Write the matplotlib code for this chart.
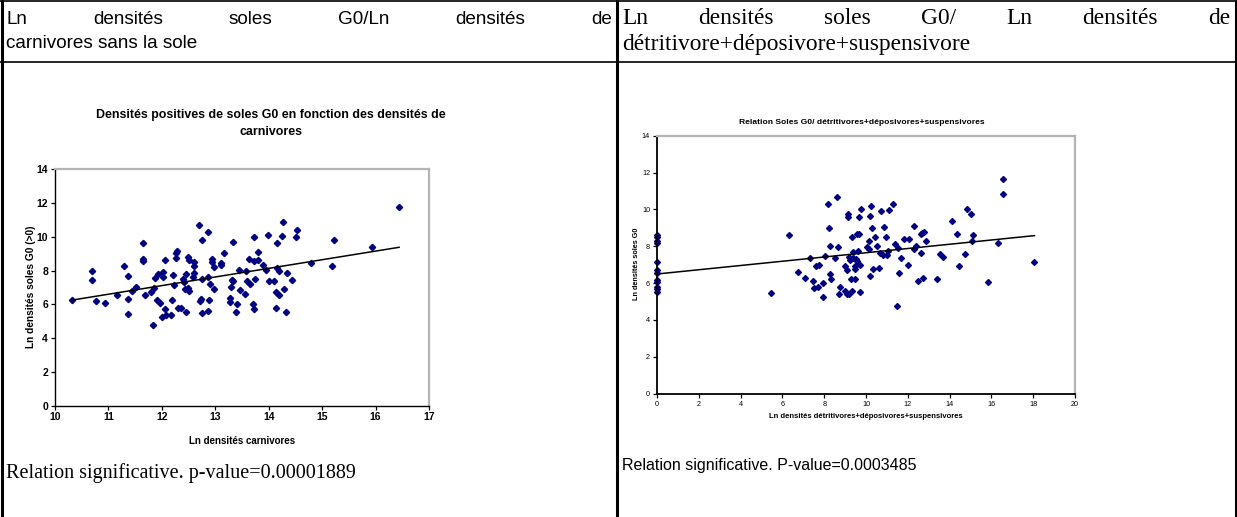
import numpy as np
import matplotlib
matplotlib.use("Agg")
import matplotlib.pyplot as plt

# ---------data---------
# left chart : Ln densites carnivores vs Ln densites soles G0
left_x = [10.31, 10.70, 10.70, 10.77, 10.94, 11.16, 11.30, 11.36, 11.36, 11.37,
          11.44, 11.52, 11.64, 11.64, 11.64, 11.69, 11.80, 12.70, 12.86, 12.76,
          13.33, 12.27, 12.29, 12.27, 12.05, 12.48, 12.50, 12.60, 12.61, 12.93,
          12.94, 12.97, 13.10, 13.11, 13.17, 12.02, 12.03, 11.92, 11.88, 12.20,
          12.45, 12.60, 12.58, 12.39, 12.42, 12.23, 11.85, 12.44, 12.48, 12.51,
          12.75, 12.86, 12.91, 12.97, 13.31, 13.34, 13.29, 13.46, 13.56, 13.45,
          13.57, 11.91, 11.96, 12.19, 12.06, 12.01, 12.08, 12.17, 11.84, 12.31,
          12.35, 12.46, 12.71, 12.73, 12.88, 12.76, 12.86, 13.28, 13.27, 13.40,
          13.39, 14.27, 13.72, 13.99, 14.25, 14.53, 14.51, 14.15, 15.23, 13.80,
          13.63, 13.72, 13.80, 13.89, 13.95, 14.15, 14.19, 14.34, 14.80, 15.18,
          13.75, 13.60, 13.65, 14.00, 14.09, 14.43, 14.13, 14.28, 14.19, 13.70,
          13.72, 14.13, 14.33, 15.93, 16.44]
left_y = [6.27, 8.00, 7.43, 6.18, 6.07, 6.54, 8.24, 7.69, 6.30, 5.41,
          6.78, 7.01, 9.62, 8.68, 8.58, 6.52, 6.74, 10.71, 10.26, 9.82,
          9.70, 9.03, 9.15, 8.74, 8.64, 8.80, 8.64, 8.52, 8.28, 8.70,
          8.52, 8.20, 8.44, 8.34, 9.03, 7.94, 7.63, 7.80, 7.57, 7.73,
          7.79, 7.88, 7.63, 7.51, 7.33, 7.17, 6.99, 6.91, 6.99, 6.78,
          7.49, 7.61, 7.19, 6.93, 7.43, 7.37, 7.01, 6.85, 6.60, 8.06,
          7.98, 6.28, 6.10, 6.26, 5.74, 5.27, 5.37, 5.39, 4.78, 5.80,
          5.80, 5.57, 6.22, 6.30, 6.26, 5.47, 5.59, 6.40, 6.12, 6.00,
          5.53, 10.89, 9.96, 10.08, 10.06, 10.38, 10.00, 9.64, 9.80, 9.09,
          8.68, 8.58, 8.65, 8.32, 8.06, 8.14, 8.00, 7.86, 8.42, 8.28,
          7.51, 7.35, 7.21, 7.37, 7.37, 7.43, 6.74, 6.93, 6.54, 6.04,
          5.73, 5.79, 5.53, 9.41, 11.74]
left_slope, left_icpt, left_r2 = 0.5112, 0.9726, 0.1589

# right chart : Ln densites detritivores+deposivores+suspensivores vs soles G0
right_x = [0, 0, 0, 0, 0, 0, 0, 0, 0, 0, 0, 0,
           5.45, 6.30, 6.77, 7.08, 7.33, 7.47, 7.51, 7.60, 7.77, 7.72,
           7.92, 7.95, 8.05, 8.18, 8.24, 8.26, 8.27, 8.31, 8.50, 8.61,
           8.66, 8.69, 8.77, 8.98, 8.98, 9.08, 9.09, 9.13, 9.16, 9.18,
           9.21, 9.22, 9.32, 9.30, 9.33, 9.37, 9.40, 9.46, 9.46, 9.48,
           9.50, 9.56, 9.58, 9.61, 9.65, 9.67, 9.71, 9.72, 9.76, 10.04,
           10.14, 10.22, 10.21, 10.12, 10.19, 10.29, 10.34, 10.45, 10.54, 10.61,
           10.66, 10.73, 10.83, 10.87, 11.08, 11.31, 10.95, 11.41, 11.55, 11.05,
           11.01, 11.67, 11.60, 11.48, 11.83, 12.08, 12.00, 12.30, 12.28, 12.40,
           12.63, 12.70, 12.77, 12.88, 12.63, 12.50, 12.74, 13.39, 13.53, 13.68,
           14.10, 14.37, 14.43, 14.73, 14.82, 15.02, 15.14, 15.09, 15.86, 16.33,
           16.54, 16.55, 18.06]
right_y = [8.60, 8.50, 8.30, 8.20, 7.15, 6.70, 6.55, 6.15, 6.05, 5.80, 5.70, 5.50,
           5.47, 8.60, 6.58, 6.27, 7.35, 6.09, 5.73, 6.91, 6.98, 5.78,
           5.98, 5.26, 7.48, 10.32, 8.98, 7.99, 6.49, 6.23, 7.37, 10.66,
           7.95, 5.40, 5.80, 6.94, 5.57, 6.72, 5.40, 9.76, 9.60, 5.39,
           7.43, 7.28, 8.48, 6.22, 5.55, 7.70, 7.37, 6.94, 6.22, 6.74,
           7.32, 7.21, 8.69, 7.77, 9.58, 8.66, 6.96, 5.51, 10.01, 7.95,
           7.83, 10.21, 9.65, 8.28, 6.38, 8.98, 6.76, 8.51, 8.04, 6.81,
           7.64, 9.92, 7.52, 9.05, 9.97, 10.30, 8.51, 8.11, 7.90, 7.77,
           7.52, 7.34, 6.53, 4.77, 8.40, 8.37, 6.98, 9.11, 7.84, 8.01,
           8.64, 8.73, 8.80, 8.26, 7.61, 6.11, 6.29, 6.23, 7.59, 7.41,
           9.36, 8.64, 6.91, 7.57, 10.03, 9.76, 8.60, 8.26, 6.04, 8.17,
           11.67, 10.82, 7.14]
right_slope, right_icpt, right_r2 = 0.1153, 6.4956, 0.1066

left_xticks = [10, 11, 12, 13, 14, 15, 16, 17]
left_yticks = [0, 2, 4, 6, 8, 10, 12, 14]
right_xticks = [0, 2, 4, 6, 8, 10, 12, 14, 16, 18, 20]
right_yticks = [0, 2, 4, 6, 8, 10, 12, 14]

W, H = 1237, 517
SANS = "Liberation Sans"
SERIF = "Liberation Serif"
NAVY = "#000080"

fig = plt.figure(figsize=(W / 100, H / 100), dpi=100)

# overlay in pixel coords for the table, headers, captions
ov = fig.add_axes([0, 0, 1, 1], zorder=0)
ov.set_xlim(0, W)
ov.set_ylim(H, 0)
ov.axis("off")


def px_axes(x0, y0, x1, y1):
    return fig.add_axes([x0 / W, 1 - y1 / H, (x1 - x0) / W, (y1 - y0) / H], zorder=2)


# ---------table borders---------
for xv in [1.5, 617, 1235.5]:
    ov.plot([xv, xv], [0, H], color="black", lw=2.2, solid_capstyle="butt")
for yv in [0.8, 62]:
    ov.plot([0, W], [yv, yv], color="black", lw=1.2, solid_capstyle="butt")

renderer = fig.canvas.get_renderer()


def justified(words, x0, x1, y, **kw):
    # place words spread over x0..x1, like Word's justify
    ts = [ov.text(0, y, w, va="baseline", ha="left", **kw) for w in words]
    widths = [t.get_window_extent(renderer=renderer).width for t in ts]
    gap = (x1 - x0 - sum(widths)) / (len(words) - 1)
    x = x0
    for t, w in zip(ts, widths):
        t.set_x(x)
        x += w + gap


justified(["Ln", "densités", "soles", "G0/Ln", "densités", "de"], 6, 612, 24,
          family=SANS, fontsize=13.6)
ov.text(6, 48, "carnivores sans la sole", family=SANS, fontsize=13.6, va="baseline")

justified(["Ln", "densités", "soles", "G0/", "Ln", "densités", "de"], 622, 1230, 24,
          family=SERIF, fontsize=16.8)
ov.text(622, 50, "détritivore+déposivore+suspensivore", family=SERIF, fontsize=16.8,
        va="baseline")

ov.text(6, 478, "Relation significative. p-value=0.00001889", family=SERIF,
        fontsize=14.5, va="baseline")
ov.text(622, 470, "Relation significative. P-value=0.0003485", family=SANS,
        fontsize=11.5, va="baseline")


def style_axes(ax, lw_axis, tick_fs, bold):
    for s in ["top", "right"]:
        ax.spines[s].set_color("#b4b4b4")
        ax.spines[s].set_linewidth(1.6)
    for s in ["left", "bottom"]:
        ax.spines[s].set_color("black")
        ax.spines[s].set_linewidth(lw_axis)
    ax.tick_params(direction="out", length=3, width=0.9, labelsize=tick_fs, pad=2)
    for lab in ax.get_xticklabels() + ax.get_yticklabels():
        lab.set_family(SANS)
        if bold:
            lab.set_fontweight("bold")


# ---------left chart---------
ax1 = px_axes(55, 169.3, 429, 405.5)
ax1.plot(left_x, left_y, "D", color=NAVY, ms=3.2, mec=NAVY, ls="none")
lx = np.array([min(left_x), max(left_x)])
ax1.plot(lx, left_slope * lx + left_icpt, color="black", lw=1.1)
ax1.set_xlim(10, 17)
ax1.set_ylim(0, 14)
ax1.set_xticks(left_xticks)
ax1.set_yticks(left_yticks)
style_axes(ax1, 1.0, 7.5, True)

ov.text(271, 115, "Densités positives de soles G0 en fonction des densités de",
        family=SANS, fontsize=8.9, fontweight="bold", ha="center", va="center")
ov.text(271, 132, "carnivores", family=SANS, fontsize=8.9, fontweight="bold",
        ha="center", va="center")
ov.text(58, 185, "y = %.4fx + %.4f" % (left_slope, left_icpt), family=SANS,
        fontsize=8.2, fontweight="bold", va="center", zorder=5)
ov.text(79, 203, "R$^2$ = %.4f" % left_r2, family=SANS, fontsize=8.2,
        fontweight="bold", va="center")
ov.text(31, 287, "Ln densités soles G0 (>0)", family=SANS, fontsize=7.3,
        fontweight="bold", rotation=90, ha="center", va="center")
ov.text(242, 441, "Ln densités carnivores", family=SANS, fontsize=7,
        fontweight="bold", ha="center", va="center")

# ---------right chart---------
ax2 = px_axes(657, 135.7, 1075, 393.7)
ax2.plot(right_x, right_y, "D", color=NAVY, ms=3.0, mec=NAVY, ls="none",
         clip_on=False)
rx = np.array([min(right_x), max(right_x)])
ax2.plot(rx, right_slope * rx + right_icpt, color="black", lw=1.1)
ax2.set_xlim(0, 20)
ax2.set_ylim(0, 14)
ax2.set_xticks(right_xticks)
ax2.set_yticks(right_yticks)
style_axes(ax2, 1.3, 5.2, False)

ov.text(862, 123, "Relation Soles G0/ détritivores+déposivores+suspensivores",
        family=SANS, fontsize=6.1, fontweight="bold", ha="center", va="center")
ov.text(670, 159.5, "y = %.4fx + %.4f" % (right_slope, right_icpt), family=SANS,
        fontsize=7.9, va="center", zorder=5)
ov.text(693, 177.5, "R$^2$ = %.4f" % right_r2, family=SANS, fontsize=7.9,
        va="center")
ov.text(637, 264, "Ln densités soles G0", family=SANS, fontsize=5.2,
        fontweight="bold", rotation=90, ha="center", va="center")
ov.text(866, 417, "Ln densités détritivores+déposivores+suspensivores", family=SANS,
        fontsize=5.5, fontweight="bold", ha="center", va="center")

fig.savefig("out.png", dpi=100)
